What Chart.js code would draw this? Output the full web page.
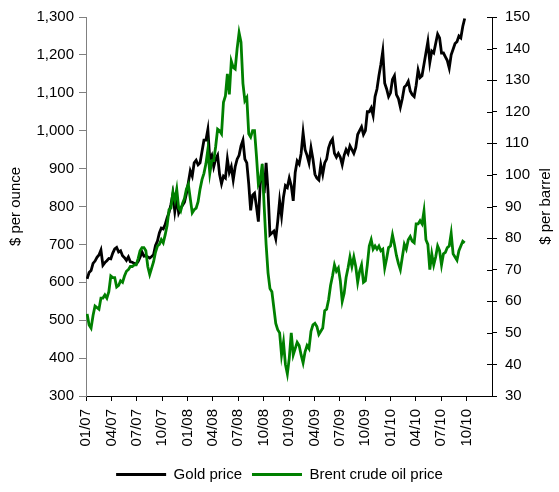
<!DOCTYPE html>
<html><head><meta charset="utf-8">
<script src="https://cdn.jsdelivr.net/npm/chart.js@4"></script>
<style>html,body{margin:0;padding:0;background:#fff}#wrap{width:559px;height:492px;position:relative}</style>
</head><body><div id="wrap"><canvas id="c"></canvas></div>
<script>
// Quarter tick labels (x axis)
const quarterLabels = ['01/07','04/07','07/07','10/07','01/08','04/08','07/08','10/08','01/09','04/09','07/09','10/09','01/10','04/10','07/10','10/10'];

// Weekly gold price, $ per ounce (Fridays, from 5 Jan 2007)
const gold2007 = [609,626,631,650, 656,666,672,685, 645,652,657,663,662, 677,688,692,680, 683,670,665,658, 667,654,653,650,648, 655,666,680,669, 670,667,664,668,673, 697,709,730,743, 741,752,770,784, 806,833,787,822,783, 795,803,811,834];
const gold2008 = [863,894,880,915, 922,910,915,945,975, 975,1003,925,935, 905,925,935,885, 860,880,875,925,890, 905,870,905,925, 935,960,975,925, 915,860,790,830,835, 800,760,865,890, 835,915,840,725,730, 735,715,760,815, 775,825,855,850];
const gold2009 = [875,855,815,890,920, 912,940,995,950, 935,915,955,925, 885,875,870,910, 885,915,925,955,970, 978,940,930,940, 930,910,935,950,940, 960,950,940,955, 990,1000,1010,990, 1000,1050,1050,1060,1040, 1090,1110,1145,1175, 1210,1125,1110,1090];
const gold2010 = [1100,1135,1145,1095,1085, 1062,1085,1115,1120, 1130,1105,1095,1090, 1120,1160,1140,1145,1175, 1205,1235,1180,1210, 1205,1230,1255,1245, 1205,1205,1195,1185,1165, 1200,1215,1230,1235, 1250,1245,1275,1296];

// Weekly Brent crude oil price, $ per barrel
const oil2007 = [56,52.5,51.5,55.5, 58.5,58,57.5,61, 61,62,61,63,68, 67.5,67.5,64.5,65, 66.5,66,68,69.5, 70,71,71,71.5,71.5, 73.5,76,77,77, 76,71,68.5,70.5,72.5, 75.5,77.5,78,79.5, 78.5,81,84,89, 89.5,94.5,92,95.5,89.5, 88.5,91,92.5,95.5];
const oil2008 = [97,92.5,88,89, 89.5,91.5,95.5,98.5,100.5, 103.5,108,100.5,104.5, 104.5,109,114.5,114, 113,123,125,132,125.5, 136,134,133.5,140, 145,142,129,123.5, 124.5,113,112,114,114, 106,97,98.5,103.5, 90,78,69,64,63, 58,53,51,50, 43,47,40,37];
const oil2009 = [42,50,43,45,47, 46,43,40.5,44, 46,45,50.5,52.5, 53,52,49.5,50.5, 51.5,57,57.5,60.5,65, 68,71.5,69.5,70.5, 66.5,60,62.5,67.5,70.5, 74,71,74,71, 66,69.5,71.5,66, 66.5,71.5,77.5,79.5,76.5, 77.5,76.5,77.5,76, 76.5,70.5,73.5,77];
const oil2010 = [77.5,81,78,74.5,72, 70,74,78,76.5, 79.5,80.5,79,78.5, 84.5,84.5,85.5,84.5,88.5, 79.5,78,70,75, 71.5,74,77.5,76, 71.5,75,75.5,77,77.5, 81.5,75,74,73, 76,77.5,79,78.5];

const goldPrice = [].concat(gold2007, gold2008, gold2009, gold2010);
const oilPrice = [].concat(oil2007, oil2008, oil2009, oil2010);

// position of a week-ending date on the quarter axis (0 = Jan 2007)
function quarterPos(i) {
  const t = Date.UTC(2007, 0, 5 + 7 * i);
  const d = new Date(t);
  const y = d.getUTCFullYear(), q = Math.floor(d.getUTCMonth() / 3);
  const qs = Date.UTC(y, q * 3, 1), qe = Date.UTC(y, q * 3 + 3, 1);
  return (y - 2007) * 4 + q + (t - qs) / (qe - qs);
}
const goldPts = goldPrice.map((v, i) => ({x: quarterPos(i), y: v}));
const oilPts = oilPrice.map((v, i) => ({x: quarterPos(i), y: v}));

Chart.defaults.font.family = '"Liberation Sans", Arial, sans-serif';
Chart.defaults.font.size = 15;
Chart.defaults.color = '#000';

const extras = {
  id: 'extras',
  afterDraw(chart) {
    const ctx = chart.ctx, a = chart.chartArea, s = chart.scales.y1;
    ctx.save();
    ctx.strokeStyle = '#000'; ctx.lineWidth = 1;
    s.ticks.forEach(t => {
      const py = Math.round(s.getPixelForValue(t.value)) + 0.5;
      ctx.beginPath(); ctx.moveTo(a.right - 5, py); ctx.lineTo(a.right, py); ctx.stroke();
    });
    ctx.fillStyle = '#000';
    ctx.font = '15px "Liberation Sans", Arial, sans-serif';
    ctx.textAlign = 'center'; ctx.textBaseline = 'middle';
    ctx.translate(546, (a.top + a.bottom) / 2);
    ctx.rotate(-Math.PI / 2);
    ctx.fillText('$ per barrel', 0, 0);
    ctx.restore();
  }
};

new Chart(document.getElementById('c'), {
  type: 'line',
  data: {
    datasets: [
      {label: 'Gold price', data: goldPts, borderColor: '#000000', backgroundColor: '#000000', borderWidth: 2.8, pointRadius: 0, yAxisID: 'y', order: 2},
      {label: 'Brent crude oil price', data: oilPts, borderColor: '#008000', backgroundColor: '#008000', borderWidth: 2.8, pointRadius: 0, yAxisID: 'y1', order: 1}
    ]
  },
  options: {
    responsive: true, maintainAspectRatio: false, animation: false,
    layout: {padding: {top: 15, left: 0, right: 0, bottom: 0}},
    plugins: {
      tooltip: {enabled: false},
      legend: {
        position: 'bottom',
        labels: {
          boxWidth: 50, boxHeight: 3, padding: 10, color: '#000', font: {size: 15},
          generateLabels(chart) {
            const items = Chart.defaults.plugins.legend.labels.generateLabels(chart);
            items.forEach(it => { it.lineWidth = 0; });
            return items.sort((p, q) => p.datasetIndex - q.datasetIndex);
          }
        }
      }
    },
    scales: {
      x: {
        type: 'linear', min: 0, max: 16, position: 'bottom',
        afterBuildTicks(sc) { sc.ticks = sc.ticks.filter(t => t.value < 16); },
        afterFit(sc) { sc.height = 61; },
        ticks: {stepSize: 1, autoSkip: false, maxRotation: 90, minRotation: 90, padding: 8, color: '#000',
          callback: v => quarterLabels[v] !== undefined ? quarterLabels[v] : ''},
        grid: {drawOnChartArea: false, tickLength: 5, color: '#000'},
        border: {color: '#000'}
      },
      y: {
        position: 'left', min: 300, max: 1300,
        afterFit(sc) { sc.width = 86; },
        ticks: {stepSize: 100, padding: 5, color: '#000', callback: v => v.toLocaleString('en-US')},
        grid: {drawOnChartArea: false, tickLength: 7, color: '#808080'},
        border: {color: '#808080'},
        title: {display: true, text: '$ per ounce', color: '#000', font: {size: 15}, padding: {top: 7, bottom: 0}}
      },
      y1: {
        position: 'right', min: 30, max: 150,
        afterFit(sc) { sc.width = 67; },
        ticks: {stepSize: 10, padding: 8, color: '#000'},
        grid: {drawOnChartArea: false, tickLength: 5, color: '#000'},
        border: {color: '#000'}
      }
    }
  },
  plugins: [extras]
});
</script>
</body></html>
